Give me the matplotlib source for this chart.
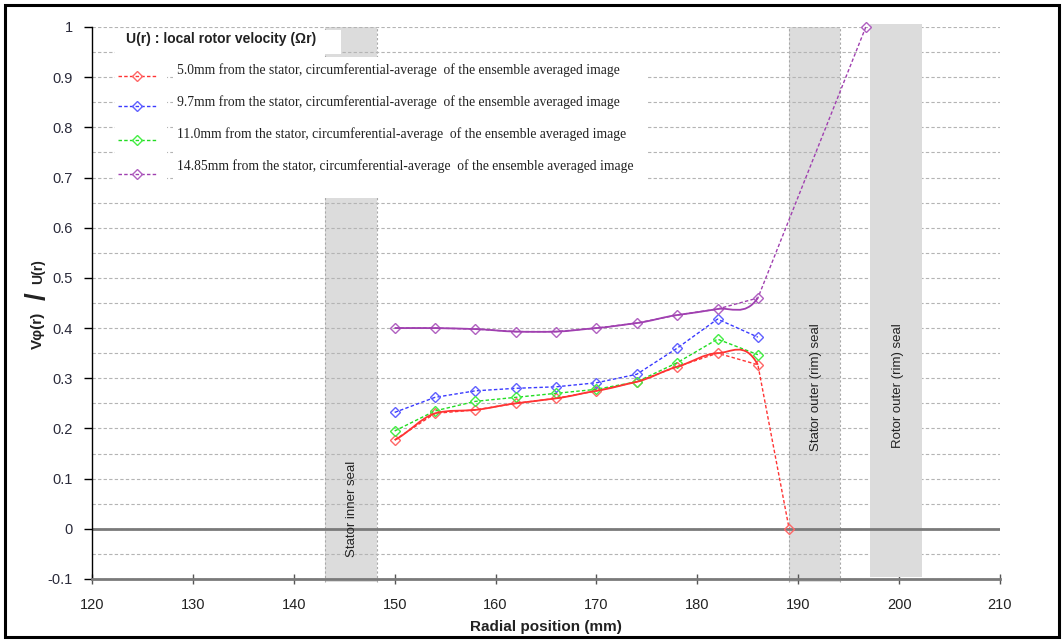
import matplotlib
matplotlib.use("Agg")
import matplotlib.pyplot as plt
import numpy as np
from matplotlib.path import Path
from matplotlib.patches import PathPatch, Rectangle
from matplotlib.ticker import MultipleLocator, FuncFormatter
from matplotlib import font_manager

plt.rcParams["axes.unicode_minus"] = False

# radial stations of the measured points (mm)
r = [150, 154, 158, 162, 166, 170, 174, 178, 182, 186]

# V_phi / U, circumferential average of the ensemble averaged image
v_5p0 = [0.177, 0.230, 0.237, 0.250, 0.260, 0.275, 0.293, 0.323, 0.350, 0.327]
v_9p7 = [0.232, 0.262, 0.275, 0.280, 0.283, 0.291, 0.308, 0.360, 0.418, 0.382]
v_11p0 = [0.195, 0.235, 0.254, 0.262, 0.270, 0.278, 0.293, 0.331, 0.378, 0.347]
v_14p85 = [0.400, 0.400, 0.398, 0.393, 0.393, 0.400, 0.410, 0.426, 0.438, 0.460]

# boundary values at the walls
r_5p0_wall, v_5p0_wall = 189.1, 0.0
r_14p85_wall, v_14p85_wall = 196.7, 1.0

labels = [
    "5.0mm from the stator, circumferential-average  of the ensemble averaged image",
    "9.7mm from the stator, circumferential-average  of the ensemble averaged image",
    "11.0mm from the stator, circumferential-average  of the ensemble averaged image",
    "14.85mm from the stator, circumferential-average  of the ensemble averaged image",
]

# seal regions (mm)
seals = [
    ("Stator inner seal", 143.1, 148.2),
    ("Stator outer (rim) seal", 189.1, 194.1),
    ("Rotor outer (rim) seal", 197.1, 202.3),
]

names = {f.name for f in font_manager.fontManager.ttflist}
narrow = "Liberation Sans Narrow" if "Liberation Sans Narrow" in names else "Liberation Sans"
sans = "Liberation Sans"
serif = "Liberation Serif"


def smooth_path(x, y, nseg, k=0.75):
    # bezier curve through the points, tangents from neighbouring points
    x = np.asarray(x, float)
    y = np.asarray(y, float)
    n = len(x)
    s = np.empty(n)
    s[1:-1] = (y[2:] - y[:-2]) / (x[2:] - x[:-2])
    s[0] = (y[1] - y[0]) / (x[1] - x[0])
    s[-1] = (y[-1] - y[-2]) / (x[-1] - x[-2])
    verts = [(x[0], y[0])]
    codes = [Path.MOVETO]
    for i in range(nseg):
        h = (x[i + 1] - x[i]) / 3
        verts += [(x[i] + h, y[i] + k * s[i] * h),
                  (x[i + 1] - h, y[i + 1] - k * s[i + 1] * h),
                  (x[i + 1], y[i + 1])]
        codes += [Path.CURVE4] * 3
    return Path(verts, codes)


fig = plt.figure(figsize=(10.63, 6.43), dpi=100)
ax = fig.add_axes([92 / 1063, 64 / 643, 908 / 1063, 552 / 643])

ax.set_xlim(120, 210)
ax.set_ylim(-0.1, 1.0)

# grid every 0.05
ax.yaxis.set_major_locator(MultipleLocator(0.1))
ax.yaxis.set_minor_locator(MultipleLocator(0.05))
ax.xaxis.set_major_locator(MultipleLocator(10))
ax.set_axisbelow(True)
ax.grid(which="both", axis="y", color="#b4b4b4", linestyle=(0, (3, 2)), linewidth=0.8)
ax.tick_params(axis="y", which="minor", length=0)

for sp in ("top", "right"):
    ax.spines[sp].set_visible(False)
ax.spines["left"].set_color("black")
ax.spines["left"].set_linewidth(1.0)
ax.spines["bottom"].set_color("#7a7a7a")
ax.spines["bottom"].set_linewidth(2.0)
ax.spines["bottom"].set_zorder(2.5)

ax.tick_params(axis="y", which="major", direction="out", length=6, width=1,
               color="black", labelsize=10.5, labelcolor="#2a2a3a", pad=8)
ax.tick_params(axis="x", direction="inout", length=7, width=1, color="#555555",
               labelsize=10.5, labelcolor="#222222", pad=10)
ax.yaxis.set_major_formatter(FuncFormatter(lambda v, p: f"{v:g}" if abs(v) > 1e-9 else "0"))
for t in ax.get_yticklabels():
    t.set_fontfamily(sans)
for t in ax.get_xticklabels():
    t.set_fontfamily(narrow)

# seal bands
band_color = "#dcdcdc"
for i, (name, x0, x1) in enumerate(seals):
    top = 1.0 if i < 2 else 1.005
    bottom = -0.106 if i < 2 else -0.096
    zo = 0.3 if i < 2 else 1.0
    ax.add_patch(Rectangle((x0, bottom), x1 - x0, top - bottom, facecolor=band_color,
                           edgecolor="none", zorder=zo, clip_on=False))
    if i < 2:
        for xe in (x0, x1):
            ax.plot([xe, xe], [bottom, top], color="#a8a8a8", lw=0.8,
                    linestyle=(0, (2, 2)), zorder=0.35, clip_on=False)

ax.text(145.75, -0.056, seals[0][0], rotation=90, ha="center", va="bottom",
        fontsize=9.5, family=sans, color="#222222", zorder=4)
ax.text(191.75, 0.41, seals[1][0], rotation=90, ha="center", va="top",
        fontsize=9.5, family=sans, color="#222222", zorder=4)
ax.text(199.85, 0.41, seals[2][0], rotation=90, ha="center", va="top",
        fontsize=9.5, family=sans, color="#222222", zorder=4)

# zero line
ax.axhline(0, color="#7a7a7a", lw=2.0, zorder=2)

# legend backgrounds
ax.add_patch(Rectangle((122.3, 0.946), 22.4, 0.049, facecolor="white",
                       edgecolor="none", zorder=1.5))
ax.add_patch(Rectangle((122.3, 0.66), 5.1, 0.28, facecolor="white",
                       edgecolor="none", zorder=1.5))
ax.add_patch(Rectangle((128.0, 0.66), 47.1, 0.28, facecolor="white",
                       edgecolor="none", zorder=1.5))

dash = (0, (2.5, 1.6))
series = [
    (r + [r_5p0_wall], v_5p0 + [v_5p0_wall], "#ff3333", "#ff6666", True),
    (r, v_9p7, "#3a3aff", "#6060ff", False),
    (r, v_11p0, "#22dd22", "#44ee44", False),
    (r + [r_14p85_wall], v_14p85 + [v_14p85_wall], "#a040b0", "#b060c0", True),
]

for x, y, lc, mc, smooth in series:
    ax.plot(x, y, color=lc, lw=1.0, linestyle=dash, marker="D", markersize=5.5,
            markerfacecolor="none", markeredgecolor=mc, markeredgewidth=1.0,
            zorder=3, clip_on=False)
    if smooth:
        ax.add_patch(PathPatch(smooth_path(x, y, len(r) - 1), facecolor="none",
                               edgecolor=lc, lw=1.3, zorder=3.2))

# legend
ax.text(123.4, 0.976, "U(r) : local rotor velocity (\u03a9r)", ha="left", va="center",
        fontsize=10, fontweight="bold", family=sans, color="#222222", zorder=4)
key_y = [0.902, 0.842, 0.775, 0.708]
text_y = [0.914, 0.851, 0.787, 0.723]
for (x, y, lc, mc, smooth), ky, ty, lab in zip(series, key_y, text_y, labels):
    ax.plot([122.6, 126.4], [ky, ky], color=lc, lw=1.0, linestyle=dash, zorder=4)
    ax.plot([124.5], [ky], marker="D", markersize=5.5, markerfacecolor="none",
            markeredgecolor=mc, markeredgewidth=1.0, zorder=4)
    ax.text(128.4, ty, lab, ha="left", va="center", fontsize=9.8, family=serif,
            color="#222222", zorder=4)

ax.set_xlabel("Radial position (mm)", fontsize=11, fontweight="bold", family=narrow,
              color="#222222", labelpad=6)

# y axis title in three pieces for the large slash
fig.text(38 / 1063, 1 - 330 / 643, "V\u03c6(r)", rotation=90, ha="center", va="center",
         fontsize=11, fontweight="bold", family=sans, color="#222222")
fig.text(38 / 1063, 1 - 296 / 643, "/", rotation=90, ha="center", va="center",
         fontsize=20, fontweight="bold", family=sans, color="#222222")
fig.text(38 / 1063, 1 - 272 / 643, "U(r)", rotation=90, ha="center", va="center",
         fontsize=10, fontweight="bold", family=sans, color="#222222")

fig.patches.append(Rectangle((5 / 1063, 6 / 643), 1054 / 1063, 632 / 643,
                             transform=fig.transFigure, facecolor="none",
                             edgecolor="black", lw=2.2))

fig.savefig("out.png", dpi=100)
